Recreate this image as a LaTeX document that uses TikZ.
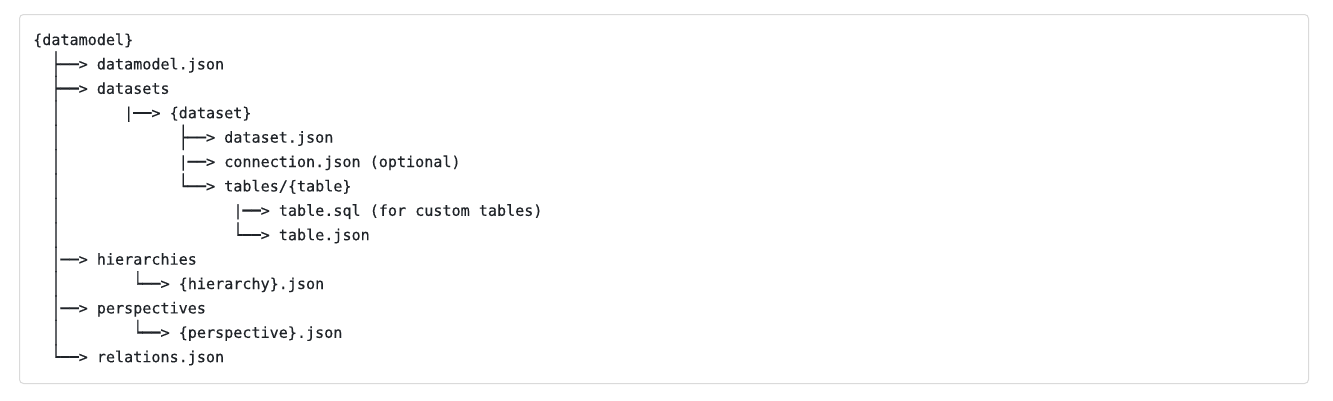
\documentclass[tikz,border=0pt]{standalone}
\usepackage{graphicx}
\usepackage{fontspec}
\newfontfamily\codefont{DejaVu Sans Mono}[FakeBold=0.25]
\definecolor{codetext}{HTML}{1F2328}
\definecolor{codeframe}{HTML}{DADADA}
% box-drawing glyphs stretched to the full line height
\newcommand\branch[1]{\raisebox{-2.2pt}{\scalebox{1}[1.42]{#1}}}

\begin{document}
\begin{tikzpicture}[x=9.1pt, y=-24.4pt,  % one unit = one character cell, one line
    line/.style={anchor=base west, inner sep=0pt, text=codetext,
      font=\codefont\fontsize{15.1}{24.4}\selectfont}]
        % Page and frame of the code block
        \useasboundingbox (-33pt,45pt) rectangle (1300pt,-355pt);
        \draw[codeframe, line width=1pt, rounded corners=4pt, fill=white]
          (-13.5pt,30.5pt) rectangle (1275.5pt,-338.5pt);

        % Root and its entries, placed at (column, line)
        \node[line] (datamodel) at (0,0) {\{datamodel\}};
        \node[line] (dmjson) at (2,1) {\branch{├──}> datamodel.json};
        \node[line] (datasets) at (2,2) {\branch{├──}> datasets};
        \node[line] (dataset) at (10,3) {|\branch{──}> \{dataset\}};
        \node[line] (dsjson) at (16,4) {\branch{├──}> dataset.json};
        \node[line] (connection) at (16,5) {|\branch{──}> connection.json (optional)};
        \node[line] (tables) at (16,6) {\branch{└──}> tables/\{table\}};
        \node[line] (tablesql) at (22,7) {|\branch{──}> table.sql (for custom tables)};
        \node[line] (tablejson) at (22,8) {\branch{└──}> table.json};
        \node[line] (hierarchies) at (2,9) {\branch{│──}> hierarchies};
        \node[line] (hierarchy) at (11,10) {\branch{└──}> \{hierarchy\}.json};
        \node[line] (perspectives) at (2,11) {\branch{│──}> perspectives};
        \node[line] (perspective) at (11,12) {\branch{└──}> \{perspective\}.json};
        \node[line] (relations) at (2,13) {\branch{└──}> relations.json};

        % Vertical bar of the root on the remaining lines
        \foreach \n in {3,4,5,6,7,8,10,12} {
          \node[line] (trunk\n) at (2,\n) {\branch{│}};
        }
\end{tikzpicture}
\end{document}
